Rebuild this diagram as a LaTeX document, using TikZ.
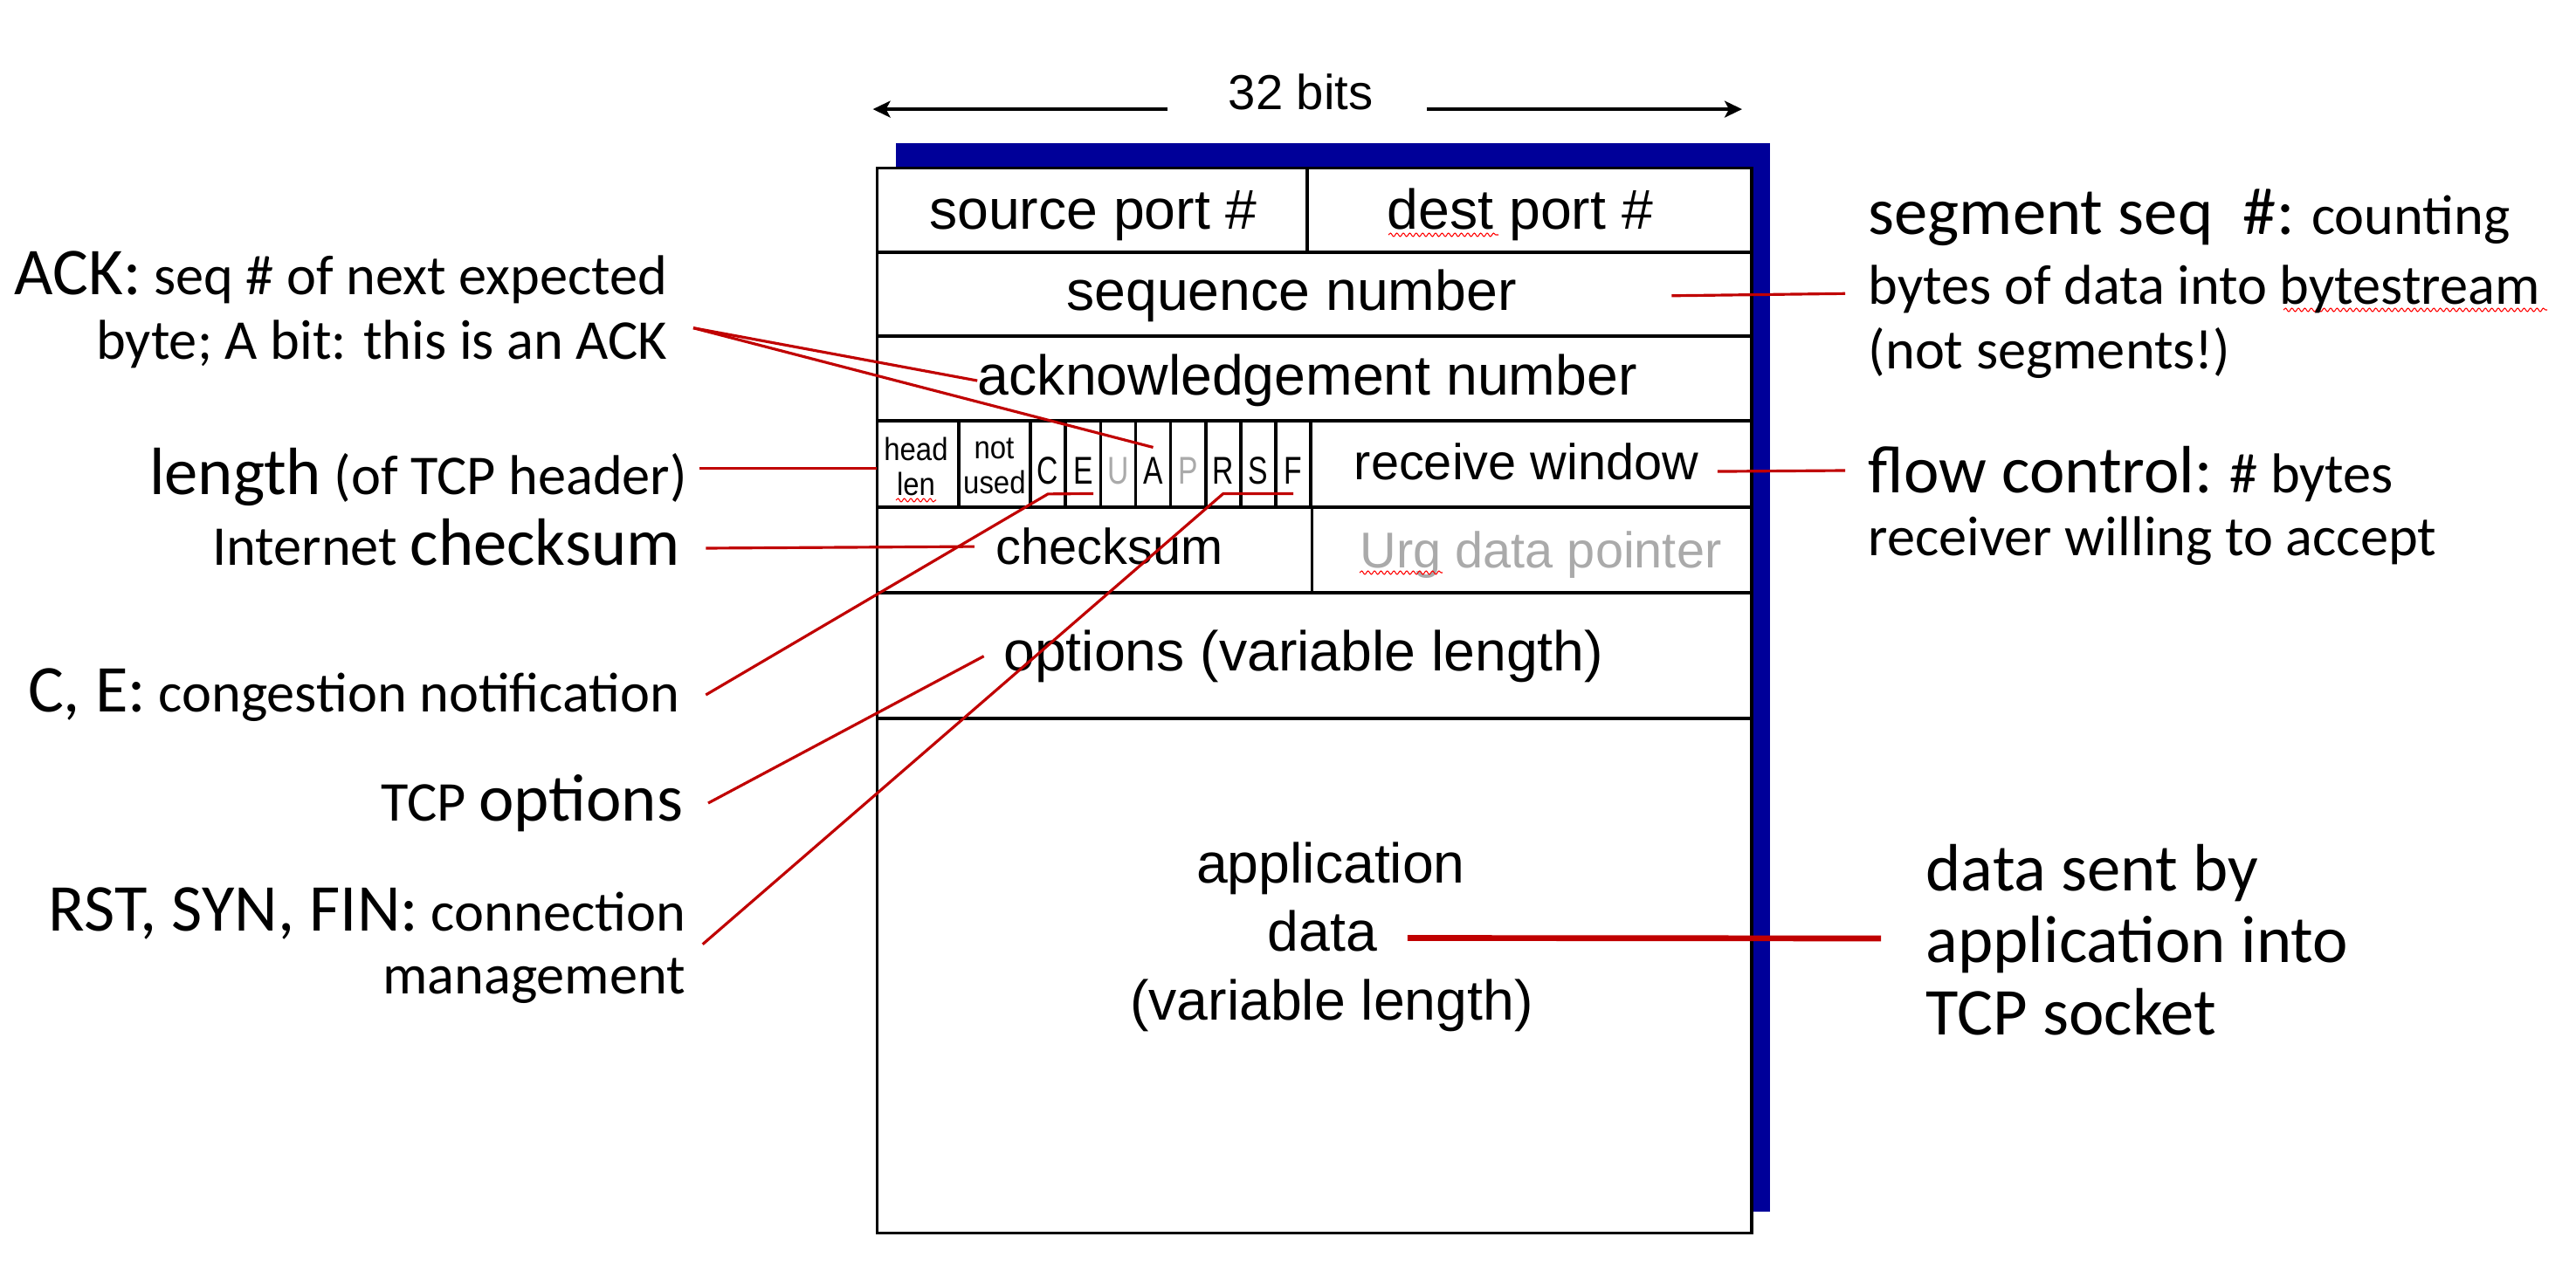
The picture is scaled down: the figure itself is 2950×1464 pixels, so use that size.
\documentclass[tikz,border=0pt]{standalone}
\usepackage{fontspec}
\setmainfont{Carlito}
\newfontfamily\arialfont{Liberation Sans}
\usepackage{graphicx}
\usepackage{tikz}
\usetikzlibrary{arrows.meta,decorations.pathmorphing}
\definecolor{hdrblue}{RGB}{0,0,153}
\definecolor{leadred}{RGB}{192,0,0}
\definecolor{offgray}{RGB}{170,170,170}
\newcommand\labbig{\fontsize{21.8}{26}\selectfont}
\newcommand\labsmall{\fontsize{18.3}{22}\selectfont}

\begin{document}
\begin{tikzpicture}[x=0.01cm,y=-0.01cm,
  field/.style={font=\arialfont\fontsize{18.3}{22}\selectfont,inner sep=0pt,anchor=base},
  subfield/.style={font=\arialfont\fontsize{16.4}{20}\selectfont,inner sep=0pt,anchor=base},
  smallfield/.style={font=\arialfont\fontsize{10.4}{12}\selectfont,inner sep=0pt,anchor=base},
  flag/.style={font=\arialfont\fontsize{12.6}{14}\selectfont,inner xsep=0pt,inner ysep=3pt,anchor=base},
  lab/.style={font=\labsmall,inner sep=0pt,anchor=base east},
  rlab/.style={font=\labsmall,inner sep=0pt,anchor=base west},
  rowline/.style={line width=1pt},
  dimarrow/.style={line width=1pt,-{Stealth[length=0.2cm,width=0.19cm,inset=0.05cm]}},
  leader/.style={draw=leadred,line width=0.9pt},
  spell/.style={draw=red,line width=0.3pt,decorate,decoration={snake,amplitude=0.55pt,segment length=2.1pt}}]
\useasboundingbox (0,0) rectangle (2950,1464);
\fill[hdrblue] (1026,164) rectangle (2027,1388);
\node[draw,fill=white,line width=1pt,minimum width=10.01cm,minimum height=12.19cm,inner sep=0pt,outer sep=0pt] (hdr) at (1505.1,802.5) {};
\foreach \y in {289,385,482,581,679,823}
  \draw[rowline] (1004.6,\y) -- (2005.6,\y);
\draw[rowline] (1497,193) -- (1497,289);
\draw[rowline] (1502.6,581) -- (1502.6,679);
\foreach \i in {0,...,8}
  \draw[rowline] (1180+40.15*\i,482) -- (1180+40.15*\i,581);
\draw[rowline] (1097.9,482) -- (1097.9,581);

\node[font=\arialfont\fontsize{16}{19}\selectfont,inner sep=0pt,anchor=base] (bits) at (1489.6,125.1) {32 bits};
\coordinate (wl) at (999.6,125.1);
\coordinate (wr) at (1995,125.1);
\draw[dimarrow] ([xshift=-0.69cm]bits.base west) -- (wl);
\draw[dimarrow] ([xshift=0.61cm]bits.base east) -- (wr);

\node[field] (srcport) at (1251.9,262.3) {source port \#};
\node[field] (destport) at (1741,263) {dest port \#};
\node[field] (seqnum) at (1479,355.8) {sequence number};
\node[field] (acknum) at (1497.3,452.7) {acknowledgement number};
\node[smallfield] (hl1) at (1049,527.4) {\scalebox{0.9}[1]{head}};
\node[smallfield] (hl2) at (1049,567.6) {\scalebox{0.9}[1]{len}};
\node[smallfield] (nu1) at (1138.5,525.5) {\scalebox{0.9}[1]{not}};
\node[smallfield] (nu2) at (1138.9,565.7) {\scalebox{0.9}[1]{used}};
\foreach \flagname/\col [count=\i from 0] in {C/black,E/black,U/offgray,A/black,P/offgray,R/black,S/black,F/black}
  \node[flag,text=\col] (f\flagname) at (1200.1+40.15*\i,554.2) {\scalebox{0.76}[1]{\flagname}};
\node[subfield] (rwnd) at (1748,549.7) {receive window};
\node[subfield] (cksum) at (1270.4,646.7) {checksum};
\node[subfield,text=offgray] (urgptr) at (1764.6,650.7) {Urg data pointer};
\node[field] (opts) at (1492.8,768.3) {options (variable length)};
\node[field] (app1) at (1524,1011.9) {application};
\node[field] (app2) at (1514.6,1089.5) {data};
\node[field] (app3) at (1525,1168.4) {(variable length)};

\draw[spell] (1590,269) -- (1716,269);
\draw[spell] (1026,573) -- (1072,573);
\draw[spell] (1557,656) -- (1652,656);
\draw[spell] (2615,355) -- (2917,355);

\node[lab] (ack1) at (765,338) {{\labbig ACK:} seq \# of next expected};
\node[lab] (ack2) at (765,411.7) {byte; A bit: this is an ACK};
\node[lab] (lablen) at (787.6,566.7) {{\labbig length} (of TCP header)};
\node[lab] (labck) at (779.3,648) {Internet {\labbig checksum}};
\node[lab] (labce) at (779.3,815) {{\labbig C, E:} congestion notification};
\node[lab] (labopt) at (783,940) {TCP {\labbig options}};
\node[lab] (labrst1) at (785.7,1066.7) {{\labbig RST, SYN, FIN:} connection};
\node[lab] (labrst2) at (785.7,1138) {management};

\node[rlab] (seg1) at (2139,268.3) {{\labbig segment seq\ \ \#:} counting};
\node[rlab] (seg2) at (2139,348.3) {bytes of data into bytestream};
\node[rlab] (seg3) at (2139,422.7) {(not segments!)};
\node[rlab] (flow1) at (2139,565) {{\labbig flow control:} \# bytes};
\node[rlab] (flow2) at (2139,636.7) {receiver willing to accept};
\node[rlab,font=\labbig] (dsent1) at (2205,1020) {data sent by};
\node[rlab,font=\labbig] (dsent2) at (2205,1102) {application into};
\node[rlab,font=\labbig] (dsent3) at (2205,1185.8) {TCP socket};

\coordinate (lenA) at ([shift={(13,-30)}]lablen.base east);
\draw[leader] ([shift={(29,-36)}]ack2.base east) -- (acknum.west);
\draw[leader] ([shift={(29,-36)}]ack2.base east) -- (fA.north);
\draw[leader] (lenA) -- (lenA -| hdr.west);
\draw[leader] ([shift={(29,-20)}]labck.base east) -- ([shift={(-24,0)}]cksum.west);
\draw[leader] ([shift={(29,-19)}]labce.base east) -- (fC.south) -- (fE.south east);
\draw[leader] ([shift={(28,-20)}]labopt.base east) -- ([shift={(-22,0)}]opts.west);
\draw[leader] ([shift={(19,15)}]labrst1.base east) -- (fR.south) -- (fF.south);
\draw[leader] ([shift={(177,-17)}]seqnum.base east) -- ([shift={(-26,-12)}]seg2.base west);
\draw[leader] ([shift={(21,11)}]rwnd.east) -- ([shift={(-26,-26)}]flow1.base west);
\draw[leader,line width=1.9pt] ([shift={(34,-15)}]app2.base east) -- ([shift={(-51,-27)}]dsent2.base west);
\end{tikzpicture}
\end{document}
